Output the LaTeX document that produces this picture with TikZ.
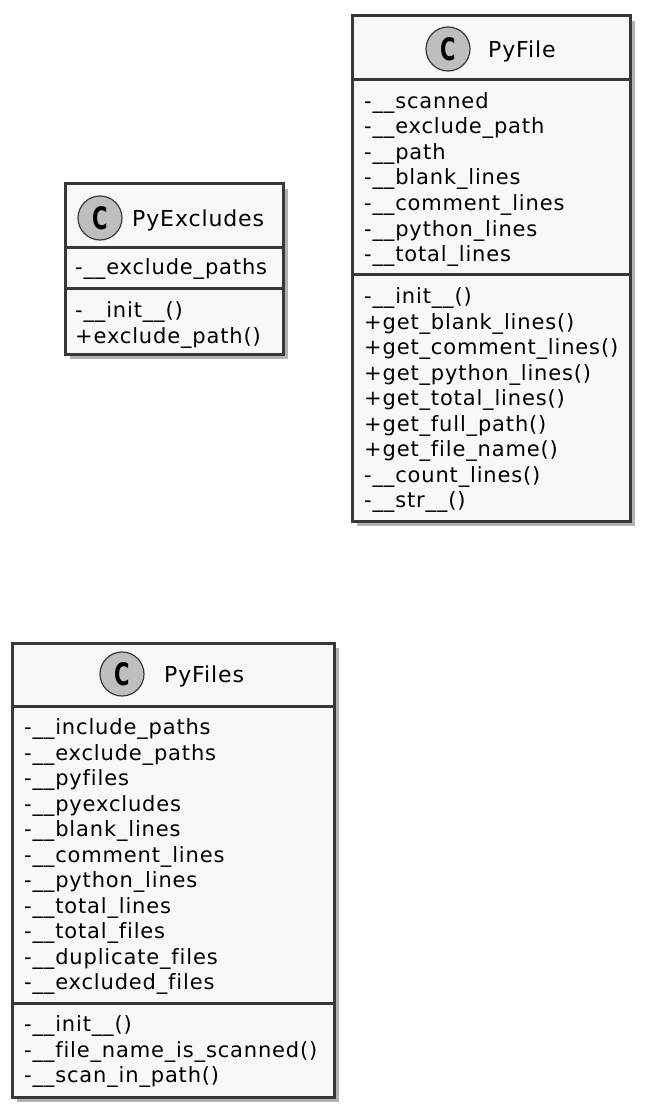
\documentclass[tikz,border=0pt]{standalone}
\usepackage{fontspec}
\setmainfont{DejaVu Sans}[Ligatures=NoCommon, LetterSpace=4]
\usetikzlibrary{shadows}
\definecolor{umlfill}{HTML}{F8F8F8}
\definecolor{umlline}{HTML}{383838}
\definecolor{spotgray}{HTML}{BEBEBE}
\tikzset{
  classbox/.style={draw=umlline, line width=3pt, fill=umlfill,
    drop shadow={shadow xshift=5pt, shadow yshift=-5pt, opacity=0.3, fill=black}},
  sepline/.style={draw=umlline, line width=3pt},
  spot/.style={circle, draw=umlline, line width=1.2pt, fill=spotgray, minimum size=44pt,
    inner sep=0pt, font=\bfseries\fontsize{31}{31}\selectfont},
  classname/.style={anchor=west, inner sep=0pt, yshift=-2pt, font=\fontsize{22}{26}\selectfont},
  member/.style={anchor=west, inner sep=0pt, text height=15pt, text depth=5pt,
    yshift=-2.5pt, font=\fontsize{21}{25.5}\selectfont},
}
\newcommand{\spotC}{\scalebox{0.68}[1]{C}}
\begin{document}
\begin{tikzpicture}[x=1pt, y=-1pt]
  \useasboundingbox (0,0) rectangle (652,1118);
  \def\rowH{25.5}

  % PyExcludes
  \path[classbox] (65,184) rectangle (283,354);
  \draw[sepline] (65,247) -- (283,247);
  \draw[sepline] (65,288) -- (283,288);
  \node[spot] (pe-spot) at (100,218) {\spotC};
  \node[classname] (pe-name) at (132,218) {PyExcludes};
  \node[member] (pe-a1) at (75,267) {-\_\_exclude\_paths};
  \foreach \t [count=\i] in {-\_\_init\_\_(), +exclude\_path()}
    \node[member] (pe-m\i) at (75,{310+\rowH*(\i-1)}) {\t};

  % PyFile
  \path[classbox] (352,16) rectangle (630,521);
  \draw[sepline] (352,80) -- (630,80);
  \draw[sepline] (352,274) -- (630,274);
  \node[spot] (pf-spot) at (448,49) {\spotC};
  \node[classname] (pf-name) at (488,49) {PyFile};
  \foreach \t [count=\i] in {-\_\_scanned, -\_\_exclude\_path, -\_\_path,
      -\_\_blank\_lines, -\_\_comment\_lines, -\_\_python\_lines, -\_\_total\_lines}
    \node[member] (pf-a\i) at (364,{101+\rowH*(\i-1)}) {\t};
  \foreach \t [count=\i] in {-\_\_init\_\_(), +get\_blank\_lines(), +get\_comment\_lines(),
      +get\_python\_lines(), +get\_total\_lines(), +get\_full\_path(),
      +get\_file\_name(), -\_\_count\_lines(), -\_\_str\_\_()}
    \node[member] (pf-m\i) at (364,{296+\rowH*(\i-1)}) {\t};

  % PyFiles
  \path[classbox] (12,643) rectangle (334,1097);
  \draw[sepline] (12,706) -- (334,706);
  \draw[sepline] (12,1003) -- (334,1003);
  \node[spot] (pfs-spot) at (122,674) {\spotC};
  \node[classname] (pfs-name) at (164,674) {PyFiles};
  \foreach \t [count=\i] in {-\_\_include\_paths, -\_\_exclude\_paths, -\_\_pyfiles,
      -\_\_pyexcludes, -\_\_blank\_lines, -\_\_comment\_lines, -\_\_python\_lines,
      -\_\_total\_lines, -\_\_total\_files, -\_\_duplicate\_files, -\_\_excluded\_files}
    \node[member] (pfs-a\i) at (24,{727+\rowH*(\i-1)}) {\t};
  \foreach \t [count=\i] in {-\_\_init\_\_(), -\_\_file\_name\_is\_scanned(), -\_\_scan\_in\_path()}
    \node[member] (pfs-m\i) at (24,{1024+\rowH*(\i-1)}) {\t};
\end{tikzpicture}
\end{document}
